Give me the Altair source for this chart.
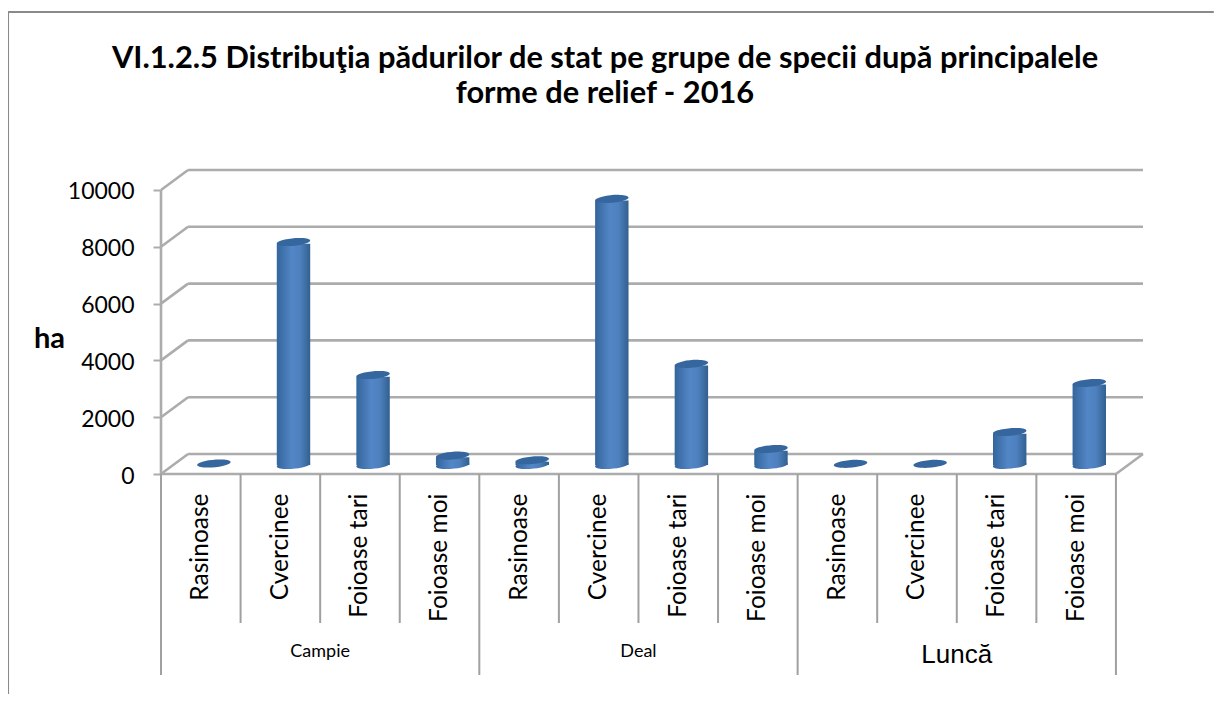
import altair as alt
import pandas as pd

title_lines = ["VI.1.2.5 Distribuţia pădurilor de stat pe grupe de specii după principalele",
               "forme de relief - 2016"]
species = ["Rasinoase", "Cvercinee", "Foioase tari", "Foioase moi"]
groups = ["Campie", "Deal", "Luncă"]
campie = [50, 7850, 3170, 330]
deal = [170, 9370, 3560, 560]
lunca = [40, 40, 1160, 2890]
y_ticks = [0, 2000, 4000, 6000, 8000, 10000]

GREY = "#acacac"
FRAME = "#8a8a8a"
DX, DY = 0.34, 704        # depth of the 3-D floor, in scale units
X_MAX, Y_MAX = 12.34, 10704
BASE = 317                # bar foot sits mid-way on the floor
BAR_W = 0.42
BAR_SHIFT = 0.165
INSET = 60

values = campie + deal + lunca
labels = species * 3
n = len(values)

bars = pd.DataFrame({
    "species": labels,
    "group": [g for g in groups for _ in species],
    "value": values,
    "xc": [i + 0.5 + BAR_SHIFT for i in range(n)],
})
bars["x0"] = bars.xc - BAR_W / 2
bars["x1"] = bars.xc + BAR_W / 2
bars["y0"] = BASE
bars["y1"] = BASE + bars.value
bars["yb"] = bars.y1 - INSET

segs = []
for v in y_ticks:
    segs.append(dict(x=0, y=v, x2=DX, y2=v + DY))
    segs.append(dict(x=DX, y=v + DY, x2=X_MAX, y2=v + DY))
segs.append(dict(x=0, y=0, x2=X_MAX - DX, y2=0))
segs.append(dict(x=X_MAX - DX, y=0, x2=X_MAX, y2=DY))
segs.append(dict(x=0, y=0, x2=0, y2=10000))
segs = pd.DataFrame(segs)

seps = pd.DataFrame([dict(x=i, y=0, y2=-7077 if i % 4 == 0 else -5246) for i in range(n + 1)])

frame = pd.DataFrame([
    dict(x=-1.922, y=16268, x2=-1.922, y2=-7746),
    dict(x=-1.922, y=16268, x2=13.23, y2=16268),
])

group_df = pd.DataFrame({"group": groups, "x": [2, 6, 10], "y": [-6280, -6280, -6380]})

x_scale = alt.Scale(domain=[0, X_MAX], nice=False, zero=False)
y_scale = alt.Scale(domain=[0, Y_MAX], nice=False, zero=False)

label_expr = "[" + ",".join(f"'{s}'" for s in labels) + "][round(datum.value-0.5)]"
x_axis = alt.Axis(values=[i + 0.5 for i in range(n)], labelExpr=label_expr, labelAngle=270,
                  labelAlign="right", labelBaseline="middle", labelPadding=19, labelFont="Lato",
                  labelFontSize=24.5, labelColor="black", labelOverlap=False, labelBound=False,
                  labelFlush=False, ticks=False, domain=False, grid=False, title=None)
y_axis = alt.Axis(values=y_ticks, format="d", labelFont="Lato", labelFontSize=23, labelColor="black",
                  labelPadding=19, labelOffset=2, tickColor=GREY, tickWidth=2, tickSize=8, domain=False,
                  grid=False, title="ha", titleAngle=0, titleFont="Lato", titleFontSize=29,
                  titleFontWeight="bold", titleColor="black", titleX=-112, titleY=168, titleAlign="center",
                  titleBaseline="middle")

X = lambda f: alt.X(f, type="quantitative", scale=x_scale)
Y = lambda f: alt.Y(f, type="quantitative", scale=y_scale)

base_axes = alt.Chart(bars).mark_point(opacity=0).encode(
    x=alt.X("xc:Q", scale=x_scale, axis=x_axis),
    y=alt.Y("y0:Q", scale=y_scale, axis=y_axis),
)

frame_l = alt.Chart(frame).mark_rule(color=FRAME, strokeWidth=2).encode(
    x=X("x"), y=Y("y"), x2="x2", y2="y2")
seg_l = alt.Chart(segs).mark_rule(color=GREY, strokeWidth=2.6).encode(
    x=X("x"), y=Y("y"), x2="x2", y2="y2")
sep_l = alt.Chart(seps).mark_rule(color="#a0a0a0", strokeWidth=2).encode(
    x=X("x"), y=Y("y"), y2="y2")

grad = alt.Gradient(gradient="linear", x1=0, x2=1, y1=0, y2=0, stops=[
    alt.GradientStop(offset=0, color="#34659c"),
    alt.GradientStop(offset=0.45, color="#5286c6"),
    alt.GradientStop(offset=0.7, color="#4e80be"),
    alt.GradientStop(offset=1, color="#31608f"),
])
ELLIPSE = "M-0.996,0.087 A1,0.22,-5,1,1,0.996,-0.087 A1,0.22,-5,1,1,-0.996,0.087 Z"
SIZE = 33.5 ** 2

foot = alt.Chart(bars).transform_filter("datum.value > 100").mark_point(
    shape=ELLIPSE, size=SIZE, filled=True, fill=grad, opacity=1, strokeWidth=0
).encode(x=X("xc"), y=Y("y0"))
body = alt.Chart(bars).transform_filter("datum.value > 100").mark_rect(fill=grad).encode(
    x=X("x0"), x2="x1", y=Y("y0"), y2="yb")
cap = alt.Chart(bars).mark_point(
    shape=ELLIPSE, size=SIZE, filled=True, fill="#35669e", opacity=1, strokeWidth=0
).encode(x=X("xc"), y=Y("y1"))

g1 = alt.Chart(group_df).transform_filter("datum.group != 'Luncă'").mark_text(
    font="Lato", fontSize=18, color="black", baseline="middle", align="center"
).encode(x=X("x"), y=Y("y"), text="group:N")
g2 = alt.Chart(group_df).transform_filter("datum.group == 'Luncă'").mark_text(
    font="Liberation Sans", fontSize=26, color="black", baseline="middle", align="center"
).encode(x=X("x"), y=Y("y"), text="group:N")

chart = alt.layer(base_axes, frame_l, seg_l, sep_l, foot, body, cap, g1, g2).properties(
    width=982, height=304, background="white",
    padding={"left": 153, "right": 71, "top": 162, "bottom": 220},
    autosize=alt.AutoSizeParams(type="none"),
    title=alt.TitleParams(text=title_lines, font="Lato", fontSize=30.8, fontWeight="bold", color="black",
                          anchor="middle", dx=-47, offset=-99, lineHeight=35),
).configure_view(stroke=None)

chart.save("out.html", embed_options={"renderer": "svg", "actions": False})
